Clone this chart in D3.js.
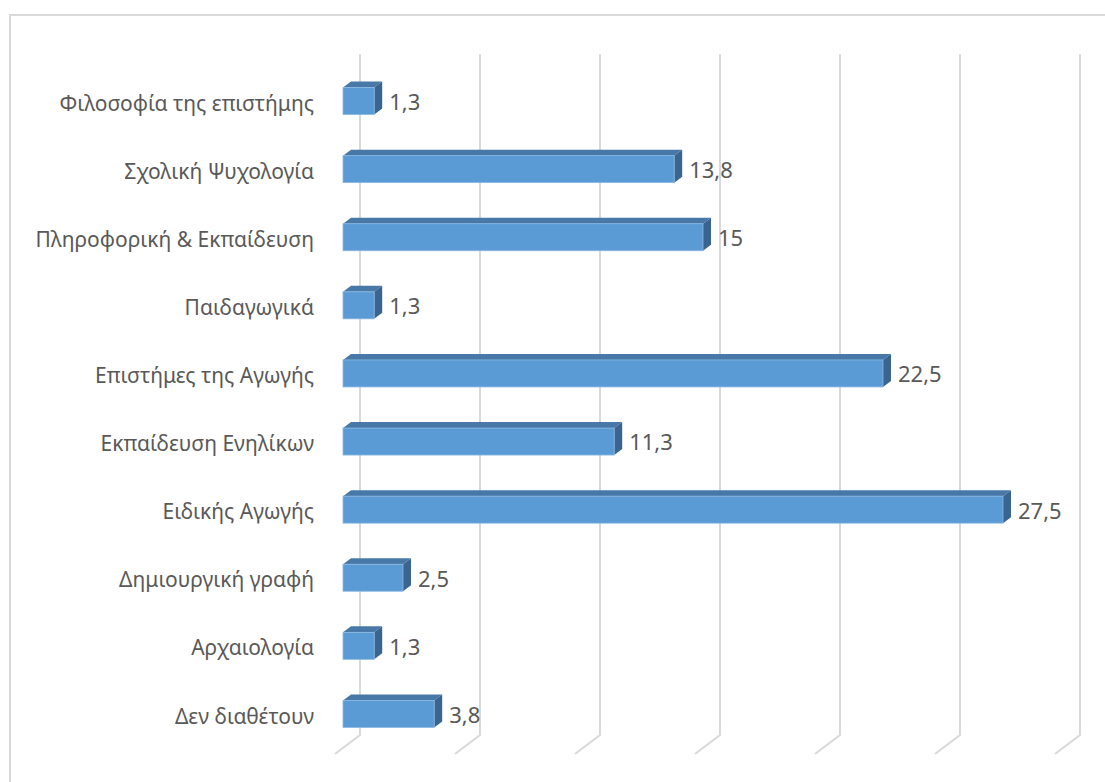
<!DOCTYPE html>
<html>
<head>
<meta charset="utf-8">
<script src="https://cdn.jsdelivr.net/npm/d3@7/dist/d3.min.js"></script>
<style>
  html, body { margin: 0; padding: 0; background: #ffffff; }
  svg { display: block; }
  text { font-family: "Noto Sans", "DejaVu Sans", sans-serif; fill: #595959; }
</style>
</head>
<body>
<svg id="chart" width="1105" height="782"></svg>
<script>
// Specialisations (top to bottom) and their share in percent
const categories = [
  "Φιλοσοφία της επιστήμης",
  "Σχολική Ψυχολογία",
  "Πληροφορική & Εκπαίδευση",
  "Παιδαγωγικά",
  "Επιστήμες της Αγωγής",
  "Εκπαίδευση Ενηλίκων",
  "Ειδικής Αγωγής",
  "Δημιουργική γραφή",
  "Αρχαιολογία",
  "Δεν διαθέτουν"
];
const values = [1.3, 13.8, 15, 1.3, 22.5, 11.3, 27.5, 2.5, 1.3, 3.8];
const valueLabels = ["1,3", "13,8", "15", "1,3", "22,5", "11,3", "27,5", "2,5", "1,3", "3,8"];
const gridTicks = [0, 5, 10, 15, 20, 25, 30];

const svg = d3.select("#chart");

// Back wall of the 3-D plot area
const x = d3.scaleLinear().domain([0, 30]).range([360, 1080]);
const y = d3.scaleBand().domain(categories).range([54, 735]).paddingInner(0.6).paddingOuter(0.3);

// Perspective offsets: floor front edge and bar front face relative to the back wall
const floorDX = -25, floorDY = 19;
const barDX = -17, barDY = 13;
const depthDX = 8, depthDY = -6;

// Chart area border (top and left edges visible)
svg.append("path")
  .attr("d", "M10,782 L10,15 L1105,15")
  .attr("fill", "none")
  .attr("stroke", "#d9d9d9")
  .attr("stroke-width", 2);

// Gridlines on the back wall, bending onto the floor
const grid = svg.append("g");
gridTicks.forEach(t => {
  const gx = x(t);
  grid.append("path")
    .attr("d", `M${gx},54 L${gx},735 L${gx + floorDX},${735 + floorDY}`)
    .attr("fill", "none")
    .attr("stroke", "#d9d9d9")
    .attr("stroke-width", 2);
});

// Bars: front face, top face, side face
const bars = svg.append("g");
categories.forEach((c, i) => {
  const v = values[i];
  const x0 = x(0) + barDX;
  const x1 = x(v) + barDX;
  const yc = y(c) + y.bandwidth() / 2 + barDY;
  const h = 27;
  const y0 = yc - h / 2, y1 = yc + h / 2;
  const g = bars.append("g");
  // top face
  g.append("path")
    .attr("d", `M${x0},${y0} L${x0 + depthDX},${y0 + depthDY} L${x1 + depthDX},${y0 + depthDY} L${x1},${y0} Z`)
    .attr("fill", "#4878a8");
  // side face
  g.append("path")
    .attr("d", `M${x1},${y0} L${x1 + depthDX},${y0 + depthDY} L${x1 + depthDX},${y1 + depthDY} L${x1},${y1} Z`)
    .attr("fill", "#3a658f");
  // front face
  g.append("rect")
    .attr("x", x0).attr("y", y0)
    .attr("width", x1 - x0).attr("height", h)
    .attr("fill", "#5b9bd5")
    .attr("stroke", "#8ab8e2")
    .attr("stroke-width", 0.8);
  // value label
  svg.append("text")
    .attr("x", x1 + depthDX + 7)
    .attr("y", yc + 3)
    .attr("dominant-baseline", "middle")
    .attr("font-size", 22)
    .text(valueLabels[i]);
  // category label
  svg.append("text")
    .attr("x", 314)
    .attr("y", yc + 4)
    .attr("text-anchor", "end")
    .attr("dominant-baseline", "middle")
    .attr("font-size", 21)
    .text(c);
});
</script>
</body>
</html>
